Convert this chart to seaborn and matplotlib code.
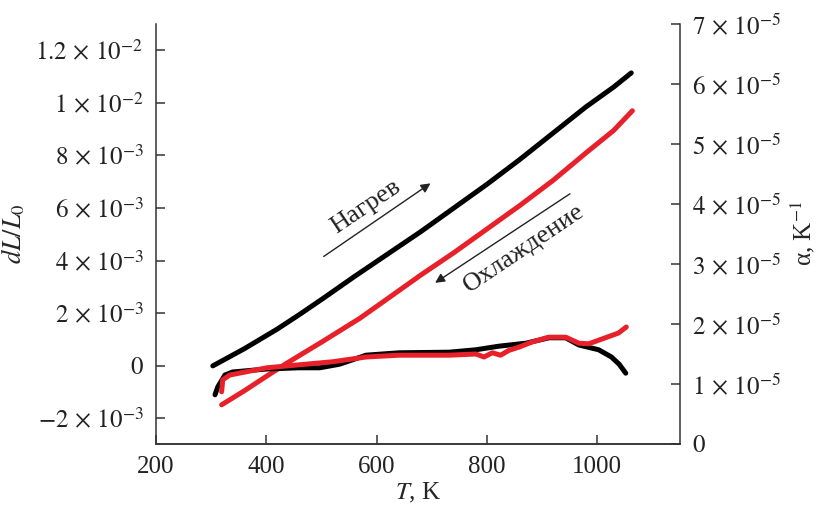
import numpy as np
import pandas as pd
import seaborn as sns
import matplotlib.pyplot as plt
from matplotlib.ticker import FixedLocator, FixedFormatter

sns.set_style("ticks")
plt.rcParams['font.family'] = ['Liberation Serif', 'DejaVu Serif']
plt.rcParams['mathtext.fontset'] = 'stix'

# dL/L0, heating (black) and cooling (red)
T_heat = [303, 360, 420, 460, 502, 560, 620, 680, 740, 800, 860, 920, 980, 1030, 1062]
dl_heat = [0.0e-3, 0.65e-3, 1.4e-3, 1.95e-3, 2.55e-3, 3.4e-3, 4.25e-3, 5.1e-3, 6.0e-3, 6.9e-3,
           7.85e-3, 8.85e-3, 9.85e-3, 10.6e-3, 11.14e-3]
T_cool = [319, 360, 400, 437, 500, 569, 623, 680, 740, 800, 860, 920, 980, 1030, 1064]
dl_cool = [-1.48e-3, -0.95e-3, -0.4e-3, 0.1e-3, 0.9e-3, 1.8e-3, 2.6e-3, 3.45e-3, 4.3e-3, 5.2e-3,
           6.1e-3, 7.05e-3, 8.1e-3, 8.95e-3, 9.7e-3]

# alpha, heating (black) and cooling (red)
Ta_heat = [307, 312, 325, 339, 401, 460, 497, 533, 581, 641, 732, 780, 822, 871, 913, 943, 967, 1003, 1026, 1040, 1052]
a_heat = [0.82e-5, 0.95e-5, 1.15e-5, 1.2e-5, 1.25e-5, 1.27e-5, 1.27e-5, 1.33e-5, 1.48e-5, 1.52e-5, 1.53e-5,
          1.57e-5, 1.63e-5, 1.68e-5, 1.77e-5, 1.77e-5, 1.65e-5, 1.57e-5, 1.45e-5, 1.33e-5, 1.18e-5]
Ta_cool = [319, 321, 334, 401, 460, 520, 581, 641, 732, 780, 795, 810, 825, 840, 860, 882, 912, 943, 967, 985, 1015, 1039, 1053]
a_cool = [0.87e-5, 1.07e-5, 1.15e-5, 1.27e-5, 1.32e-5, 1.37e-5, 1.45e-5, 1.48e-5, 1.48e-5, 1.5e-5, 1.45e-5, 1.52e-5,
          1.48e-5, 1.56e-5, 1.62e-5, 1.70e-5, 1.78e-5, 1.78e-5, 1.68e-5, 1.67e-5, 1.77e-5, 1.85e-5, 1.95e-5]

left_ticks = [-2e-3, 0, 2e-3, 4e-3, 6e-3, 8e-3, 1e-2, 1.2e-2]
left_labels = [r'$-2\,\times\,10^{-3}$', r'$0$', r'$2\,\times\,10^{-3}$', r'$4\,\times\,10^{-3}$',
               r'$6\,\times\,10^{-3}$', r'$8\,\times\,10^{-3}$', r'$1\,\times\,10^{-2}$', r'$1.2\,\times\,10^{-2}$']
right_ticks = [0, 1e-5, 2e-5, 3e-5, 4e-5, 5e-5, 6e-5, 7e-5]
right_labels = [r'$0$'] + [r'$%d\,\times\,10^{-5}$' % i for i in range(1, 8)]
x_ticks = [200, 400, 600, 800, 1000]

red = '#e8202a'
fs = 18

fig = plt.figure(figsize=(8.19, 5.08), dpi=100)
ax = fig.add_axes([0.1905, 0.126, 0.6395, 0.8268])
ax2 = ax.twinx()

sns.lineplot(x=T_heat, y=dl_heat, ax=ax, color='black', lw=3.6, sort=False, estimator=None)
sns.lineplot(x=T_cool, y=dl_cool, ax=ax, color=red, lw=3.6, sort=False, estimator=None)
sns.lineplot(x=Ta_heat, y=a_heat, ax=ax2, color='black', lw=3.6, sort=False, estimator=None)
sns.lineplot(x=Ta_cool, y=a_cool, ax=ax2, color=red, lw=3.6, sort=False, estimator=None)

ax.set_xlim(200, 1150)
ax.set_ylim(-2.97e-3, 1.3e-2)
ax2.set_ylim(0, 7e-5)

ax.xaxis.set_major_locator(FixedLocator(x_ticks))
ax.yaxis.set_major_locator(FixedLocator(left_ticks))
ax.yaxis.set_major_formatter(FixedFormatter(left_labels))
ax2.yaxis.set_major_locator(FixedLocator(right_ticks))
ax2.yaxis.set_major_formatter(FixedFormatter(right_labels))

for a in (ax, ax2):
    a.spines['top'].set_visible(False)
    for s in a.spines.values():
        s.set_color('#333333')
        s.set_linewidth(1.1)
    a.tick_params(direction='in', length=6.5, width=1.1, color='#333333',
                  labelsize=fs, pad=9, labelcolor='#222222')
ax.spines['right'].set_visible(False)
ax2.spines['left'].set_visible(False)

ax.set_xlabel(r'$T$, K', fontsize=fs, labelpad=2)
ax.set_ylabel(r'$dL/L_0$', fontsize=19, labelpad=6)
ax2.set_ylabel(r'α, K$^{-1}$', fontsize=fs, labelpad=5)

# annotations
ax.annotate('', xy=(702, 7.0e-3), xytext=(500, 4.1e-3),
            arrowprops=dict(arrowstyle='-|>', color='#222222', lw=1.0, mutation_scale=14))
ax.text(580, 6.05e-3, 'Нагрев', fontsize=19, rotation=34, ha='center', va='center', color='#222222')
ax.annotate('', xy=(702, 3.1e-3), xytext=(955, 6.6e-3),
            arrowprops=dict(arrowstyle='-|>', color='#222222', lw=1.0, mutation_scale=14))
ax.text(868, 4.45e-3, 'Охлаждение', fontsize=19, rotation=34, ha='center', va='center', color='#222222')

plt.savefig('out.png', dpi=100)
